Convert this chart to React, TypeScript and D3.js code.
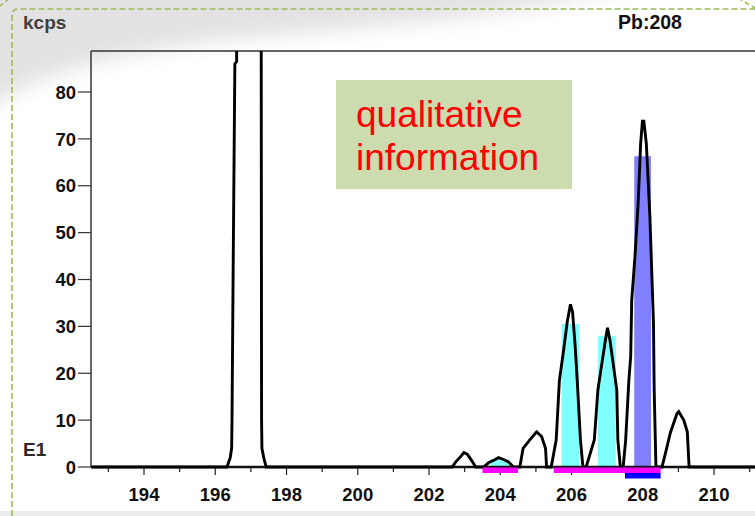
import React from "react";
import * as d3 from "d3";

// ---- data ----
const massAxis: number[] = [
  192.52, 196.33, 196.42, 196.46, 196.47, 196.5, 196.55, 196.6, 196.6, 196.9, 197.29, 197.29, 197.3, 197.31, 197.36, 197.43,
  202.65, 202.75, 202.84, 202.98, 203.08, 203.22, 203.31,
  203.53, 203.67, 203.86, 203.95, 204.09, 204.23, 204.33, 204.37,
  204.55, 204.64, 204.83, 205.02, 205.16, 205.27, 205.3,
  205.43, 205.57, 205.66, 205.78, 205.88, 205.97, 206.03, 206.1, 206.16, 206.25, 206.32,
  206.41, 206.64, 206.74, 206.85, 206.95, 207.01, 207.08, 207.17, 207.27, 207.3, 207.37,
  207.45, 207.52, 207.61, 207.66, 207.69, 207.78, 207.87, 207.94, 207.99, 208.03, 208.1, 208.2, 208.3, 208.32, 208.37,
  208.54, 208.68, 208.77, 208.96, 209.01, 209.15, 209.25, 209.3,
  211.2,
];
const kcpsValues: number[] = [
  0, 0, 2, 4, 10, 40, 86, 86.5, 200, 400, 200, 88, 10, 4, 2, 0,
  0, 1.1, 1.8, 3.1, 2.7, 1.1, 0,
  0, 0.9, 1.6, 2.0, 1.6, 1.1, 0.3, 0,
  0, 4, 5.8, 7.5, 6.5, 4, 0,
  0, 5.8, 18.5, 25, 31, 34.7, 33, 26, 18.5, 5.8, 0,
  0, 5.8, 16.4, 22, 27, 29.7, 27, 22, 16.4, 5.8, 0,
  0, 5.8, 18.5, 23.5, 35.6, 44.8, 56.3, 69, 73.8, 73.8, 69, 53.4, 30.7, 16.4, 0,
  0, 4.3, 7.2, 11.4, 11.8, 10, 7.5, 0,
  0,
];

// integration windows (peak areas)
const windowLo: number[] = [203.72, 205.72, 206.74, 207.76];
const windowHi: number[] = [204.26, 206.21, 207.24, 208.23];
const windowTop: number[] = [1.6, 30.5, 28.0, 66.3];
const windowKind: string[] = ["iso", "iso", "iso", "main"];

// marker bars below the axis
const markerLo: number[] = [203.5, 205.5];
const markerHi: number[] = [204.5, 208.5];
const mainMarkerLo = 207.5;
const mainMarkerHi = 208.5;

const yTickValues: number[] = [0, 10, 20, 30, 40, 50, 60, 70, 80];
const xMajorTicks: number[] = [194, 196, 198, 200, 202, 204, 206, 208, 210];
const xMinorTicks: number[] = [193, 195, 197, 199, 201, 203, 205, 207, 209, 211];

const FONT = "'Liberation Sans', Arial, sans-serif";

export default function App() {
  const W = 755;
  const H = 516;
  const left = 91;
  const right = 755;
  const top = 51;
  const bottom = 467;

  const x = d3.scaleLinear().domain([192.512, 211.15]).range([left, right]);
  const y = d3.scaleLinear().domain([0, 88.75]).range([bottom, top]);

  const pts: [number, number][] = massAxis.map((m, i) => [m, kcpsValues[i]]);
  const line = d3
    .line<[number, number]>()
    .x((d) => x(d[0]))
    .y((d) => y(d[1]));

  return (
    <svg
      width={W}
      height={H}
      style={{ position: "fixed", left: 0, top: 0, background: "#fff" }}
    >
      <defs>
        <filter id="blur" x="-20%" y="-50%" width="140%" height="200%">
          <feGaussianBlur stdDeviation="10" />
        </filter>
        <clipPath id="plotClip">
          <rect x={left} y={top} width={right - left + 5} height={bottom - top + 2} />
        </clipPath>
      </defs>
      <rect x={0} y={0} width={W} height={H} fill="#fff" />
      {/* soft gray swoosh at the top-left */}
      <path
        d="M-20,-20 L640,-20 Q560,8 420,22 Q300,34 220,40 Q120,52 40,80 L-20,110 Z"
        fill="#cfcfcf"
        opacity={0.6}
        filter="url(#blur)"
      />
      {/* bottom light band */}
      <rect x={0} y={511} width={W} height={6} fill="#ececec" />
      {/* dashed border */}
      <path
        d="M12,516 L12,15 Q12,9 18,9 L755,9"
        fill="none"
        stroke="#9bbb59"
        strokeWidth={1.6}
        strokeDasharray="6,3"
      />
      <path d="M738,-2 L755,8" fill="none" stroke="#9bbb59" strokeWidth={1.6} strokeDasharray="5,3" />
      <path d="M0,6 L10,-2" fill="none" stroke="#9bbb59" strokeWidth={1.4} strokeDasharray="4,3" />

      {/* titles */}
      <text x={23} y={29} fontFamily={FONT} fontWeight="bold" fontSize={19} fill="#3f3f3f">
        kcps
      </text>
      <text x={618} y={29} fontFamily={FONT} fontWeight="bold" fontSize={19.5} fill="#111">
        Pb:208
      </text>
      <text x={23} y={456} fontFamily={FONT} fontWeight="bold" fontSize={19} fill="#2a2a2a">
        E1
      </text>

      {/* frame lines */}
      <line x1={left} x2={right} y1={top} y2={top} stroke="#333" strokeWidth={1.5} />
      <line x1={left} x2={left} y1={top} y2={bottom} stroke="#333" strokeWidth={1.5} />

      {/* y ticks */}
      {yTickValues.map((v) => (
        <g key={"y" + v}>
          <line x1={78} x2={left} y1={y(v)} y2={y(v)} stroke="#333" strokeWidth={1.2} />
          <text
            x={76}
            y={y(v)}
            dy="0.36em"
            textAnchor="end"
            fontFamily={FONT}
            fontWeight="bold"
            fontSize={18.5}
            fill="#111"
          >
            {v}
          </text>
        </g>
      ))}

      {/* x ticks */}
      {xMinorTicks.map((v) => (
        <line key={"mn" + v} x1={x(v)} x2={x(v)} y1={bottom} y2={bottom + 5} stroke="#222" strokeWidth={1.2} />
      ))}
      {xMajorTicks.map((v) => (
        <g key={"mj" + v}>
          <line x1={x(v)} x2={x(v)} y1={bottom} y2={bottom + 8} stroke="#222" strokeWidth={1.2} />
          <text
            x={x(v)}
            y={501}
            textAnchor="middle"
            fontFamily={FONT}
            fontWeight="bold"
            fontSize={18.5}
            fill="#111"
          >
            {v}
          </text>
        </g>
      ))}

      {/* integration windows */}
      {windowLo.map((lo, i) => (
        <rect
          key={"w" + i}
          x={x(lo)}
          y={y(windowTop[i])}
          width={x(windowHi[i]) - x(lo)}
          height={y(0) - y(windowTop[i])}
          fill={windowKind[i] === "main" ? "#8080ff" : "#80ffff"}
        />
      ))}

      {/* bottom axis */}
      <line x1={left} x2={right} y1={bottom} y2={bottom} stroke="#111" strokeWidth={2.5} />

      {/* spectrum */}
      <g clipPath="url(#plotClip)">
        <path d={line(pts) || ""} fill="none" stroke="#000" strokeWidth={2.9} strokeLinejoin="miter" />
      </g>

      {/* marker bars */}
      {markerLo.map((lo, i) => (
        <rect
          key={"m" + i}
          x={x(lo)}
          y={bottom + 0.5}
          width={x(markerHi[i]) - x(lo)}
          height={5.5}
          fill="#ff00ff"
        />
      ))}
      <rect
        x={x(mainMarkerLo)}
        y={bottom + 6}
        width={x(mainMarkerHi) - x(mainMarkerLo)}
        height={5.5}
        fill="#0000ff"
      />

      {/* annotation box */}
      <rect x={336} y={80} width={236} height={109} fill="#cddcae" />
      <text x={356} y={127} fontFamily={FONT} fontSize={37} fill="#ff0000">
        qualitative
      </text>
      <text x={356} y={170} fontFamily={FONT} fontSize={37} fill="#ff0000">
        information
      </text>
    </svg>
  );
}
